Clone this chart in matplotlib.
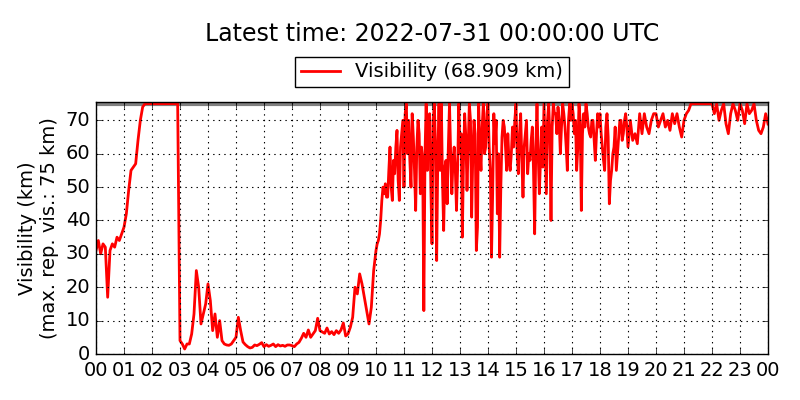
import numpy as np
import matplotlib
matplotlib.use('Agg')
import matplotlib.pyplot as plt

# visibility readings (km), one row per hour; rows are evenly spread over
# their hour (12 values = 5 min steps, 24 values = 2.5 min steps)
vis_rows = [
    [31, 34, 30, 33, 32, 17, 31, 33, 32, 35, 34, 36],          # 00
    [38, 42, 49, 55, 56, 57, 64, 70, 74, 75, 75, 75],          # 01
    [75, 75, 75, 75, 75, 75, 75, 75, 75, 75, 75, 75],          # 02
    [4, 3, 1.5, 3, 3, 6, 12, 25, 20, 9, 12, 15],               # 03
    [21, 16, 7, 12, 5, 10, 4, 3, 2.7, 2.6, 3, 4],              # 04
    [5, 11, 7, 3.6, 2.8, 2.2, 1.8, 2, 2.7, 2.5, 2.9, 3.4],     # 05
    [2.2, 2.8, 2.3, 2.6, 3, 2.2, 2.8, 2.4, 2.6, 2.3, 2.7, 2.7], # 06
    [2.5, 2.2, 3, 3.5, 4.7, 6.2, 5, 7.2, 5, 6, 7, 10.7],       # 07
    [7, 6.6, 6.2, 7.8, 6, 6.7, 5.8, 7, 6.2, 7.2, 9.3, 5.4],    # 08
    [6, 8, 11, 20, 18, 24, 21, 17, 13, 9, 14, 25],             # 09
    [31, 33, 34, 36, 40, 46, 50, 48, 51, 47, 47, 55,
     62, 50, 46, 58, 54, 62, 67, 52, 46, 62, 66, 70],          # 10
    [50, 72, 75, 60, 70, 58, 50, 72, 65, 55, 43, 62,
     70, 66, 48, 62, 58, 13, 60, 75, 55, 68, 72, 50],          # 11
    [33, 70, 75, 62, 28, 60, 75, 55, 75, 52, 37, 56,
     58, 45, 62, 75, 60, 48, 58, 62, 55, 43, 56, 75],          # 12
    [60, 66, 35, 58, 72, 65, 49, 62, 75, 70, 41, 60,
     70, 66, 31, 38, 75, 62, 55, 68, 75, 60, 62, 72],          # 13
    [75, 62, 55, 29, 48, 72, 63, 70, 42, 60, 29, 50,
     65, 70, 68, 62, 55, 66, 58, 55, 60, 68, 62, 70],          # 14
    [75, 60, 54, 66, 72, 58, 47, 62, 66, 70, 54, 60,
     58, 64, 68, 55, 36, 62, 75, 60, 48, 58, 68, 56],          # 15
    [75, 62, 48, 70, 75, 66, 40, 68, 75, 72, 72, 66,
     74, 70, 60, 68, 75, 72, 68, 62, 55, 70, 75, 70],          # 16
    [75, 72, 66, 70, 55, 62, 75, 70, 43, 66, 72, 68,
     75, 72, 68, 66, 65, 70, 70, 64, 58, 66, 72, 68],          # 17
    [72, 66, 62, 58, 55, 68, 72, 65, 45, 52, 55, 60,
     62, 68, 55, 60, 65, 70, 70, 64, 66, 70, 72, 68],          # 18
    [62, 70, 64, 66, 63, 72, 66, 72, 68, 66, 70, 72],          # 19
    [72, 68, 70, 72, 68, 70, 67, 72, 69, 72, 68, 65],          # 20
    [70, 72, 73, 75, 75, 75, 75, 75, 75, 75, 75, 75],          # 21
    [75, 72, 75, 70, 73, 75, 69, 66, 72, 75, 73, 70],          # 22
    [75, 73, 69, 75, 72, 73, 75, 70, 67, 66, 68, 72],          # 23
]
last_vis = 68.909
max_vis = 75

hours = []
visibility = []
for h, row in enumerate(vis_rows):
    hours.extend(h + np.arange(len(row)) / len(row))
    visibility.extend(row)
hours.append(24.0)
visibility.append(last_vis)

hour_labels = ['%02d' % h for h in range(24)] + ['00']

plt.style.use('classic')
fig = plt.figure(figsize=(8, 4), dpi=100, facecolor='white')
ax = fig.add_axes([0.12, 0.115, 0.84, 0.63])

ax.axhline(max_vis, color='gray', lw=3, zorder=1)
ax.plot(hours, visibility, color='red', lw=2,
        label='Visibility (%.3f km)' % last_vis, zorder=2)

ax.set_xlim(0, 24)
ax.set_ylim(0, 75.5)
ax.set_xticks(range(25))
ax.set_xticklabels(hour_labels, fontsize=14)
ax.set_yticks(range(0, 71, 10))
ax.tick_params(axis='y', labelsize=14)
ax.tick_params(axis='x', pad=5)
ax.grid(True, color='black', linestyle=':', lw=0.8)
ax.set_ylabel('Visibility (km)\n(max. rep. vis.: 75 km)', fontsize=14)

ax.legend(loc='lower center', bbox_to_anchor=(0.5, 1.02), fontsize=14,
          numpoints=1, handlelength=2.0, borderpad=0.3)
fig.text(0.54, 0.915, 'Latest time: 2022-07-31 00:00:00 UTC',
         ha='center', va='center', fontsize=17)

fig.savefig('out.png', dpi=100, facecolor='white')
